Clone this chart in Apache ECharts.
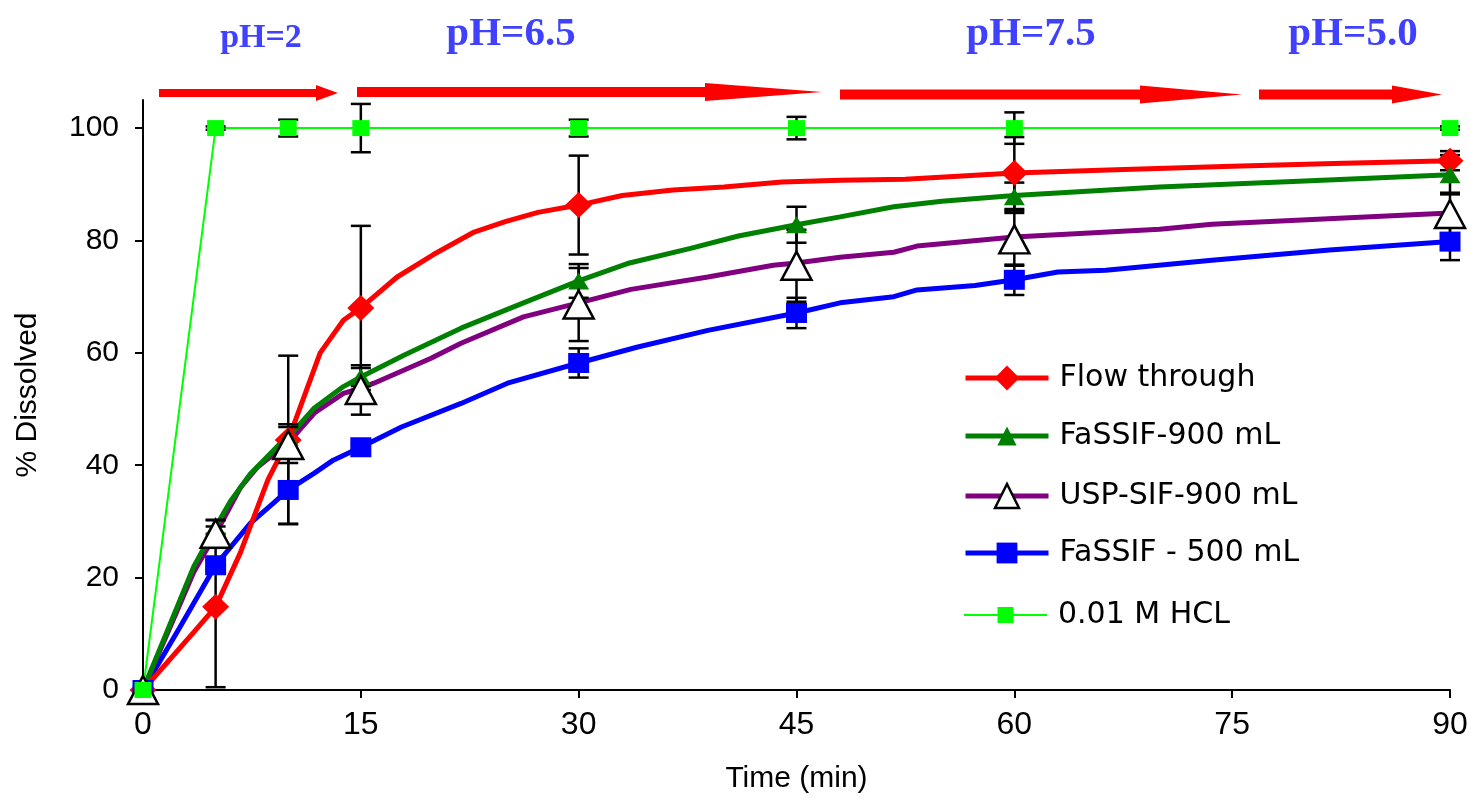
<!DOCTYPE html>
<html><head><meta charset="utf-8">
<script src="https://cdn.jsdelivr.net/npm/echarts@6/dist/echarts.min.js"></script>
<style>html,body{margin:0;padding:0;background:#fff}#c{width:1471px;height:799px}</style>
</head><body><div id="c"></div>
<script>
// ---------------- DATA ----------------
const seriesNames = ['Flow through', 'FaSSIF-900 mL', 'USP-SIF-900 mL', 'FaSSIF - 500 mL', '0.01 M HCL'];
const measuredTimes = [0, 5, 10, 15, 30, 45, 60, 90];

const flowMean = [0, 14.8, 44.5, 68, 86.3, null, 92, 94.2];
const flowSD = [0, 14.3, 15, 14.6, 8.8, null, 6.4, 1.7];
const fassif900Mean = [0, 29, 45, 55.7, 72.8, 82.8, 87.8, 91.7];
const fassif900SD = [0, 1.2, 2.3, 1.6, 3, 3.2, 2.5, 3.5];
const uspMean = [0, 27.8, 43.6, 53.4, 68.6, 75.5, 80.2, 84.7];
const uspSD = [0, 2.5, 3.2, 4.4, 6.5, 6.4, 4.7, 3.8];
const fassif500Mean = [0, 22.2, 35.6, 43.2, 58.2, 67.1, 73, 79.8];
const fassif500SD = [0, 1, 6, 0.5, 2.6, 2.7, 2.7, 3.3];
const hclMean = [0, 100, 100, 100, 100, 100, 100, 100];
const hclSD = [0, 0.3, 1.5, 4.3, 1.5, 2, 2.8, 0.3];

const flowCurve = [[0,0],[3.5,10.3],[5,14.8],[6.7,24.4],[8.6,37.4],[10,44.5],[12.2,60],[13.8,65.8],[15,68],[17.5,73.5],[20,77.5],[22.8,81.5],[25,83.4],[27.2,85],[30,86.3],[33,88],[36.5,89],[40,89.5],[44,90.4],[48,90.7],[52.5,90.9],[60,92],[67,92.6],[75,93.2],[82,93.7],[90,94.2]];
const fassif900Curve = [[0,0],[3.5,22],[5,29],[6,33.5],[7.4,38.5],[9.5,44],[10,45],[11.8,50.2],[13.8,54],[15,55.7],[18,59.6],[21.9,64.4],[26.2,68.9],[30,72.8],[33.5,76],[37.7,78.6],[41,80.8],[45,82.8],[48,84.2],[51.7,86],[55,87],[60,88],[70,89.5],[80,90.6],[90,91.7]];
const uspCurve = [[0,0],[3.5,21],[5,27.8],[6.7,36],[7.9,39.7],[9.5,43],[10,44],[11.8,49.3],[13.8,52.8],[15,53.7],[15.9,54.6],[19.8,59],[21.9,61.7],[26.2,66.4],[30,68.9],[33.6,71.3],[38.9,73.5],[43.4,75.6],[45,76],[48,77],[51.7,77.9],[53.3,79],[60,80.6],[70,82],[73.6,82.9],[90,84.9]];
const fassif500Curve = [[0,0],[2.5,11],[5,22.2],[7.4,29.7],[9,33.3],[10,35.6],[11.8,38.6],[13.1,40.9],[15,43.2],[17.8,46.8],[21.9,51],[25.1,54.6],[30,58.2],[34,61],[38.9,64],[45,67.1],[48,68.9],[51.7,70],[53.3,71.2],[57.3,72],[60,73],[63,74.4],[66.3,74.7],[73.6,76.5],[81.7,78.3],[90,79.8]];
const hclCurve = [[0,0],[5,100],[10,100],[15,100],[30,100],[45,100],[60,100],[90,100]];

const xTicks = [0, 15, 30, 45, 60, 75, 90];
const yTicks = [0, 20, 40, 60, 80, 100];
const phLabels = ['pH=2', 'pH=6.5', 'pH=7.5', 'pH=5.0'];
const xAxisTitle = 'Time (min)';
const yAxisTitle = '% Dissolved';

// ---------------- STYLES ----------------
const styles = [
  {color:'#ff0000', lw:5, symbol:'diamond', size:[27,26], fill:'#ff0000', border:'#ff0000', bw:0, legH:31},
  {color:'#008000', lw:5, symbol:'triangle', size:[21,17], fill:'#008000', border:'#008000', bw:0, legH:24},
  {color:'#800080', lw:5, symbol:'triangle', size:[30,28], fill:'#ffffff', border:'#000000', bw:2.5, legH:30},
  {color:'#0000ff', lw:5, symbol:'rect', size:[21,20], fill:'#0000ff', border:'#0000ff', bw:0, legH:26},
  {color:'#00ff00', lw:2, symbol:'rect', size:[17,16], fill:'#00ff00', border:'#00ff00', bw:0, legH:20}
];
const legendCenters = [378, 436, 496, 553, 615];
const curves = [flowCurve, fassif900Curve, uspCurve, fassif500Curve, hclCurve];
const means = [flowMean, fassif900Mean, uspMean, fassif500Mean, hclMean];
const sds = [flowSD, fassif900SD, uspSD, fassif500SD, hclSD];

const lineOrder = [3, 2, 1, 0, 4];
const markerOrder = [0, 1, 3, 2, 4];

const series = [];
lineOrder.forEach(i => {
  const s = styles[i];
  series.push({
    type: 'line', name: seriesNames[i], data: curves[i], showSymbol: false,
    symbol: s.symbol, symbolSize: s.size, smooth: false, z: 2, clip: false,
    lineStyle: {color: s.color, width: s.lw},
    itemStyle: {color: s.fill, borderColor: s.border, borderWidth: s.bw},
    emphasis: {disabled: true}, silent: true
  });
});
// error bars
const errData = [];
[0,1,2,3,4].forEach(i => {
  measuredTimes.forEach((t, k) => {
    if (means[i][k] != null && sds[i][k] > 0) errData.push([t, means[i][k], sds[i][k]]);
  });
});
series.push({
  type: 'custom', name: 'err', data: errData, z: 3, silent: true, clip: false,
  encode: {x: 0, y: 1},
  renderItem: function (params, api) {
    const t = api.value(0), m = api.value(1), sd = api.value(2);
    const top = api.coord([t, m + sd]), bot = api.coord([t, m - sd]);
    const hw = 10;
    const st = {stroke: '#000', lineWidth: 2.5};
    return {type: 'group', children: [
      {type: 'line', shape: {x1: top[0], y1: top[1], x2: bot[0], y2: bot[1]}, style: st},
      {type: 'line', shape: {x1: top[0] - hw, y1: top[1], x2: top[0] + hw, y2: top[1]}, style: st},
      {type: 'line', shape: {x1: bot[0] - hw, y1: bot[1], x2: bot[0] + hw, y2: bot[1]}, style: st}
    ]};
  }
});
markerOrder.forEach(i => {
  const s = styles[i];
  const pts = [];
  measuredTimes.forEach((t, k) => { if (means[i][k] != null) pts.push([t, means[i][k]]); });
  series.push({
    type: 'scatter', name: seriesNames[i] + ' pts', data: pts, symbol: s.symbol, symbolSize: s.size,
    z: 4, clip: false, silent: true,
    itemStyle: {color: s.fill, borderColor: s.border, borderWidth: s.bw, opacity: 1}
  });
});

const legends = seriesNames.map((name, i) => {
  const s = styles[i];
  return {
    data: [name], left: 963, top: legendCenters[i] - 16, orient: 'vertical', padding: 0,
    itemWidth: 83, itemHeight: s.legH, selectedMode: false,
    itemStyle: {color: s.fill, borderColor: s.border, borderWidth: s.bw},
    lineStyle: {color: s.color, width: s.lw},
    textStyle: {fontFamily: 'DejaVu Sans', fontSize: 30, color: '#000', lineHeight: 32, padding: [0, 0, 0, 6]}
  };
});

function arrow(x0, xh, xt, cy, sh, hh) {
  return {type: 'polygon', silent: true, z: 10,
    shape: {points: [[x0, cy - sh], [xh, cy - sh], [xh, cy - hh], [xt, cy], [xh, cy + hh], [xh, cy + sh], [x0, cy + sh]]},
    style: {fill: '#ff0000'}};
}
const phPos = [[261, 38, 34], [511, 34, 41], [1031, 34, 41], [1353, 34, 41]];
const graphics = [
  arrow(159, 316, 338, 93, 4, 8),
  arrow(357, 705, 822, 92, 5, 9),
  arrow(840, 1140, 1242, 94.5, 5, 9),
  arrow(1259, 1392, 1442, 94.5, 5, 9)
];
phLabels.forEach((txt, i) => {
  graphics.push({type: 'text', x: phPos[i][0], y: phPos[i][1], silent: true, z: 10,
    style: {text: txt, fill: '#4040ff', font: 'bold ' + phPos[i][2] + 'px "Liberation Serif", "Times New Roman", serif',
      align: 'center', verticalAlign: 'middle'}});
});

const chart = echarts.init(document.getElementById('c'), null, {renderer: 'canvas'});
chart.setOption({
  animation: false,
  backgroundColor: '#ffffff',
  grid: {left: 143, right: 21, top: 100, bottom: 109, containLabel: false},
  xAxis: {
    type: 'value', min: 0, max: 90, interval: 15,
    name: xAxisTitle, nameLocation: 'middle', nameGap: 74,
    nameTextStyle: {fontFamily: 'Liberation Sans', fontSize: 30, color: '#000'},
    axisLine: {onZero: false, lineStyle: {color: '#000', width: 2}},
    axisTick: {show: true, length: 8, inside: false, lineStyle: {color: '#000', width: 2}},
    axisLabel: {fontFamily: 'Liberation Sans', fontSize: 32, color: '#000', margin: 19,
      customValues: xTicks},
    splitLine: {show: false}
  },
  yAxis: {
    type: 'value', min: 0, max: 105, interval: 20,
    name: yAxisTitle, nameLocation: 'middle', nameGap: 100, nameRotate: 90,
    nameTextStyle: {fontFamily: 'Liberation Sans', fontSize: 30, color: '#000'},
    axisLine: {onZero: false, lineStyle: {color: '#000', width: 2}},
    axisTick: {show: true, length: 8, inside: false, lineStyle: {color: '#000', width: 2}, customValues: yTicks},
    axisLabel: {fontFamily: 'Liberation Sans', fontSize: 30, color: '#000', margin: 24,
      customValues: yTicks, formatter: v => (v > 100 ? '' : String(v))},
    splitLine: {show: false}
  },
  legend: legends,
  tooltip: {show: false},
  series: series,
  graphic: graphics
});
</script></body></html>
